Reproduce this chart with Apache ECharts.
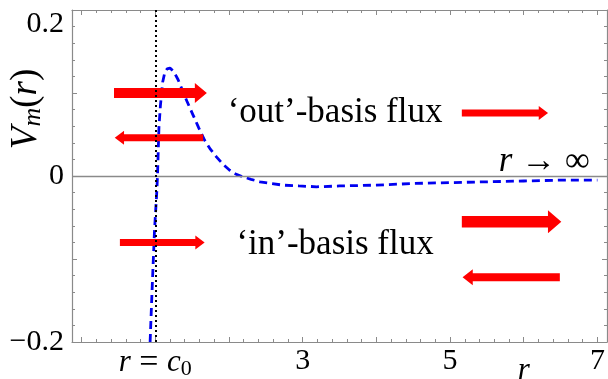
<!DOCTYPE html>
<html>
<head>
<meta charset="utf-8">
<script src="https://cdn.jsdelivr.net/npm/echarts@6/dist/echarts.min.js"></script>
<style>
    html, body { margin: 0; padding: 0; background: #fff; }
    #chart { width: 608px; height: 379px; }
</style>
</head>
<body>
<div id="chart"></div>
<script>
// 曲线 V_m(r)
var rList = [0.93, 0.96, 0.99, 1.02, 1.03, 1.04, 1.05, 1.07, 1.10, 1.13, 1.16, 1.20, 1.25, 1.31, 1.37, 1.43, 1.51, 1.59,
    1.67, 1.75, 1.83, 1.92, 2.01, 2.10, 2.19, 2.30, 2.42, 2.57, 2.73, 2.95, 3.19, 3.50, 4.0, 4.5, 5.0, 5.5, 6.0, 6.5, 7.0];
var vList = [-0.2, -0.13, -0.065, -0.02, 0, 0.03, 0.059, 0.085, 0.113, 0.125, 0.129, 0.130, 0.126, 0.116, 0.103, 0.090, 0.074, 0.058,
    0.043, 0.032, 0.023, 0.014, 0.007, 0.002, -0.001, -0.004, -0.007, -0.009, -0.011, -0.012, -0.013, -0.012, -0.011, -0.009, -0.008, -0.007, -0.006, -0.005, -0.005];
var c0 = 1;

// 箭头: 起点、终点、高度、强度
var arrowFrom = [0.44, 1.65, 5.16, 0.52, 5.16, 6.49];
var arrowTo = [1.70, 0.45, 6.33, 1.67, 6.51, 5.17];
var arrowY = [0.100, 0.046, 0.076, -0.080, -0.055, -0.122];
var arrowSize = [2.0, 1.4, 1.4, 1.4, 2.3, 1.6];

// 注释文字
var noteText = ['‘out’-basis flux', '‘in’-basis flux', 'r → ∞'];
var noteX = [3.44, 3.44, 6.28];
var noteY = [0.076, -0.083, 0.017];

// 刻度
var xMajor = [0, 1, 2, 3, 4, 5, 6, 7];
var xLabelAt = [1, 3, 5, 6, 7];
var yMajor = [-0.2, -0.1, 0, 0.1, 0.2];
var yLabelAt = [-0.2, 0, 0.2];

var FONT = 'Liberation Serif';
var GRAY = '#8a8a8a';
var X_MIN = -0.13, X_MAX = 7.13;

function minorTicks(from, to, step, major) {
    var arr = [];
    var n = Math.round((to - from) / step);
    for (var i = 0; i <= n; i++) {
        var v = Math.round((from + i * step) * 1000) / 1000;
        if (major.indexOf(v) < 0) arr.push(v);
    }
    return arr;
}

var richText = {
    n: { fontFamily: FONT, fontSize: 30, color: '#000' },
    i: { fontFamily: FONT, fontSize: 31, fontStyle: 'italic', color: '#000' },
    eq: { fontFamily: FONT, fontSize: 34, color: '#000' },
    s: { fontFamily: FONT, fontSize: 22, color: '#000', padding: [12, 0, 0, 0] },
    low: { fontFamily: FONT, fontSize: 31, fontStyle: 'italic', color: '#000', padding: [9, 0, 0, 0] },
    top: { fontFamily: FONT, fontSize: 30, color: '#000', padding: [28, 0, 0, 0] },
    big: { fontFamily: FONT, fontSize: 35, color: '#000' },
    bigi: { fontFamily: FONT, fontSize: 35, fontStyle: 'italic', color: '#000' },
    vt: { fontFamily: FONT, fontSize: 37, fontStyle: 'italic', color: '#000' },
    vs: { fontFamily: FONT, fontSize: 26, fontStyle: 'italic', color: '#000', padding: [14, 0, 0, 0] },
    vp: { fontFamily: FONT, fontSize: 37, color: '#000' }
};

function xLabel(v) {
    v = Math.round(v * 100) / 100;
    if (v === 1) return '{i|r}{eq| = }{i|c}{s|0}';
    if (v === 6) return '{low|r}';
    return '{n|' + v + '}';
}

function yLabel(v) {
    v = Math.round(v * 100) / 100;
    if (v === 0.2) return '{top|0.2}';
    if (v < 0) return '{n|−' + (-v) + '}';
    return '{n|' + v + '}';
}

function xAxisItem(pos, ticks, len, showLine, labels) {
    return {
        type: 'value', position: pos, min: X_MIN, max: X_MAX,
        axisLine: { show: showLine, onZero: false, lineStyle: { color: GRAY, width: 1.2 } },
        axisTick: { inside: true, length: len, customValues: ticks, lineStyle: { color: GRAY } },
        axisLabel: labels ? { customValues: xLabelAt, formatter: xLabel, rich: richText, margin: 4 } : { show: false },
        splitLine: { show: false }
    };
}

function yAxisItem(pos, ticks, len, showLine, labels) {
    return {
        type: 'value', position: pos, min: -0.2, max: 0.2,
        axisLine: { show: showLine, onZero: false, lineStyle: { color: GRAY, width: 1.2 } },
        axisTick: { inside: true, length: len, customValues: ticks, lineStyle: { color: GRAY } },
        axisLabel: labels ? { customValues: yLabelAt, formatter: yLabel, rich: richText, margin: 8 } : { show: false },
        splitLine: { show: false }
    };
}

// 箭头绘制
function renderArrow(params, api) {
    var p0 = api.coord([api.value(0), api.value(2)]);
    var p1 = api.coord([api.value(1), api.value(2)]);
    var s = api.value(3);
    var shaft = s * 5, head = s * 10, headLen = 3 + s * 4.5;
    var dir = p1[0] > p0[0] ? 1 : -1;
    var y = p0[1], xh = p1[0] - dir * headLen;
    return {
        type: 'polygon',
        shape: {
            points: [
                [p0[0], y - shaft / 2], [xh, y - shaft / 2], [xh, y - head / 2], [p1[0], y],
                [xh, y + head / 2], [xh, y + shaft / 2], [p0[0], y + shaft / 2]
            ]
        },
        style: { fill: '#ff0000' }
    };
}

function init() {
    var chart = echarts.init(document.getElementById('chart'));

    var curve = rList.map(function (r, i) { return [r, vList[i]]; });
    var arrows = arrowFrom.map(function (x, i) { return [x, arrowTo[i], arrowY[i], arrowSize[i]]; });
    var notes = noteText.map(function (t, i) { return [noteX[i], noteY[i], t]; });

    var xMinor = minorTicks(0, 7, 0.2, xMajor);
    var yMinor = minorTicks(-0.2, 0.2, 0.02, yMajor);

    chart.setOption({
        animation: false,
        grid: { left: 72, right: 1, top: 10, bottom: 37, containLabel: false, outerBoundsMode: 'none' },
        xAxis: [
            xAxisItem('bottom', xMajor, 5, true, true),
            xAxisItem('bottom', xMinor, 3, false, false),
            xAxisItem('top', xMajor, 5, true, false),
            xAxisItem('top', xMinor, 3, false, false)
        ],
        yAxis: [
            yAxisItem('left', yMajor, 5, true, true),
            yAxisItem('left', yMinor, 3, false, false),
            yAxisItem('right', yMajor, 5, true, false),
            yAxisItem('right', yMinor, 3, false, false)
        ],
        graphic: [{
            type: 'text', x: 26, y: 109, rotation: Math.PI / 2,
            style: {
                text: '{vt|V}{vs|m}{vp|(}{vt|r}{vp|)}', rich: richText,
                align: 'center', verticalAlign: 'middle'
            }
        }],
        series: [
            {
                type: 'line', data: curve, symbol: 'none', z: 3,
                lineStyle: { color: '#0000f0', width: 2.8, type: [8, 5] },
                markLine: {
                    silent: true, symbol: 'none', label: { show: false },
                    data: [
                        { yAxis: 0, lineStyle: { color: GRAY, width: 1.3, type: 'solid' } },
                        { xAxis: c0, lineStyle: { color: '#000', width: 2, type: [2, 3] } }
                    ]
                }
            },
            {
                type: 'custom', data: arrows, renderItem: renderArrow, z: 4,
                encode: { x: [0, 1], y: 2 }
            },
            {
                type: 'scatter', data: notes, symbolSize: 0, z: 5,
                itemStyle: { opacity: 1 },
                label: {
                    show: true, position: 'inside', rich: richText, color: '#000',
                    formatter: function (p) {
                        var t = p.value[2];
                        if (t.indexOf('r ') === 0) return '{bigi|r}{big|' + t.substr(1) + '}';
                        return '{big|' + t + '}';
                    }
                }
            }
        ]
    });
}

init();
</script>
</body>
</html>
